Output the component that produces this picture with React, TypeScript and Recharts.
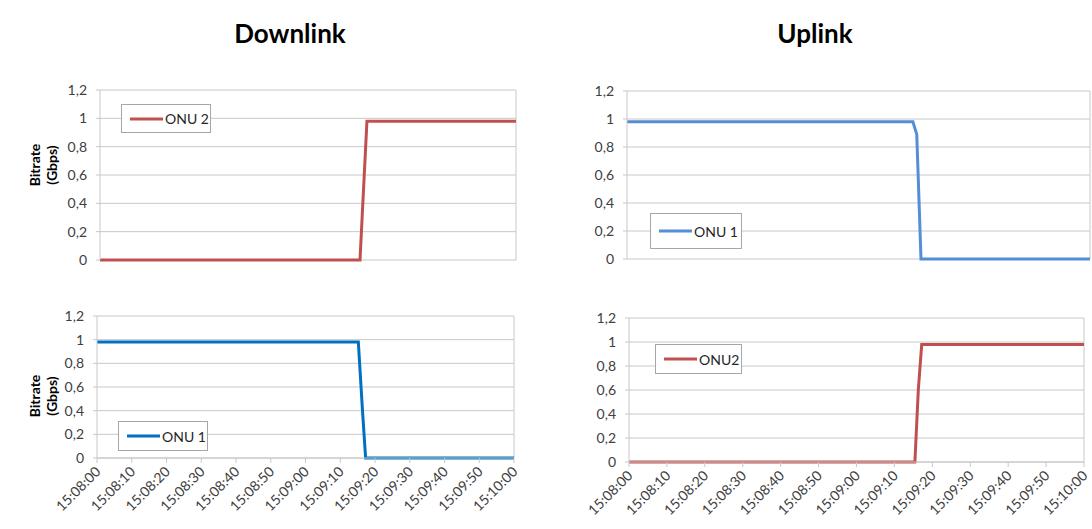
import { CartesianGrid, Line, LineChart, ReferenceLine, XAxis, YAxis } from "recharts";

// x axis: seconds after 15:08:00
const tickSeconds = [0, 10, 20, 30, 40, 50, 60, 70, 80, 90, 100, 110, 120];
const timeLabels = [
   "15:08:00", "15:08:10", "15:08:20", "15:08:30", "15:08:40", "15:08:50", "15:09:00",
   "15:09:10", "15:09:20", "15:09:30", "15:09:40", "15:09:50", "15:10:00",
];
const yTicks = [0, 0.2, 0.4, 0.6, 0.8, 1, 1.2];

// Downlink
const dlOnu2Time = [0, 75, 77, 120];
const dlOnu2 = [0, 0, 0.98, 0.98];
const dlOnu1Time = [0, 75.2, 76.4, 77.3, 120];
const dlOnu1 = [0.98, 0.98, 0.4, 0, 0];

// Uplink
const ulOnu1Time = [0, 74.1, 75.1, 76.2, 120];
const ulOnu1 = [0.98, 0.98, 0.89, 0, 0];
const ulOnu2Time = [0, 75.4, 76.3, 77.2, 120];
const ulOnu2 = [0, 0, 0.6, 0.98, 0.98];

const toRows = (t: number[], v: number[]) => t.map((s, i) => ({ t: s, v: v[i] }));

const FONT = "Lato, 'Open Sans', sans-serif";
const GRID = "#c8c8c8";

const fmtY = (v: number) => (Number.isInteger(v) ? String(v) : v.toFixed(1).replace(".", ","));

const TimeTick = (props: any) => {
   const { x, y, payload } = props;
   const idx = tickSeconds.indexOf(payload.value);
   return (
      <g transform={`translate(${x + 1},${y + 3})`}>
         <text x={0} y={0} dy="0.35em" textAnchor="end" transform="rotate(-45)" fill="#404040" fontSize={14} fontFamily={FONT}>
            {timeLabels[idx]}
         </text>
      </g>
   );
};

type PanelProps = {
   L: number; T: number; R: number; B: number;
   time: number[]; values: number[];
   color: string; name: string;
   legend: { x: number; y: number; w: number; h: number };
   showX: boolean;
};

function Panel({ L, T, R, B, time, values, color, name, legend, showX }: PanelProps) {
   const yw = 50;
   const left = L - yw;
   const top = T - 10;
   const xh = showX ? 70 : 0;
   const mb = showX ? 0 : 12;
   const width = yw + (R - L) + 14;
   const height = 10 + (B - T) + xh + mb;
   return (
      <>
         <div style={{ position: "absolute", left, top }}>
            <LineChart
               width={width}
               height={height}
               data={toRows(time, values)}
               margin={{ top: 10, right: 14, left: 0, bottom: mb }}
            >
               <CartesianGrid vertical={false} stroke={GRID} strokeWidth={1} />
               <XAxis
                  dataKey="t"
                  type="number"
                  domain={[0, 120]}
                  ticks={tickSeconds}
                  hide={!showX}
                  height={xh}
                  interval={0}
                  axisLine={{ stroke: GRID }}
                  tickLine={{ stroke: GRID }}
                  tickSize={5}
                  tickMargin={3}
                  tick={<TimeTick />}
               />
               <YAxis
                  width={yw}
                  domain={[0, 1.2]}
                  ticks={yTicks}
                  interval={0}
                  tickFormatter={fmtY}
                  axisLine={{ stroke: GRID }}
                  tickLine={{ stroke: GRID }}
                  tickSize={4}
                  tickMargin={9}
                  tick={{ fill: "#404040", fontSize: 14, fontFamily: FONT }}
               />
               <ReferenceLine x={120} stroke={GRID} />
               <Line
                  type="linear"
                  dataKey="v"
                  name={name}
                  stroke={color}
                  strokeWidth={3}
                  dot={false}
                  isAnimationActive={false}
               />
            </LineChart>
         </div>
         <div
            style={{
               position: "absolute",
               left: legend.x,
               top: legend.y,
               boxSizing: "border-box",
               width: legend.w,
               height: legend.h,
               border: "1px solid #a6a6a6",
               background: "#fff",
               display: "flex",
               alignItems: "center",
               paddingLeft: 8,
               fontFamily: FONT,
               fontSize: 14,
               color: "#262626",
            }}
         >
            <svg width={33} height={6} style={{ marginRight: 2 }}>
               <line x1={0} y1={3} x2={33} y2={3} stroke={color} strokeWidth={3} />
            </svg>
            <span>{name}</span>
         </div>
      </>
   );
}

const yLabel = (cy: number) => (
   <div
      style={{
         position: "absolute",
         left: 44 - 60,
         top: cy - 18,
         width: 120,
         height: 36,
         transform: "rotate(-90deg)",
         textAlign: "center",
         fontFamily: FONT,
         fontWeight: 700,
         fontSize: 14,
         lineHeight: "17px",
         color: "#000",
      }}
   >
      Bitrate
      <br />
      (Gbps)
   </div>
);

const title = (text: string, cx: number) => (
   <div
      style={{
         position: "absolute",
         left: cx - 100,
         top: 17,
         width: 200,
         textAlign: "center",
         fontFamily: FONT,
         fontWeight: 700,
         fontSize: 26,
         color: "#000",
      }}
   >
      {text}
   </div>
);

export default function App() {
   return (
      <div style={{ position: "absolute", left: 0, top: 0, width: 1092, height: 529, background: "#fff", overflow: "hidden" }}>
         {title("Downlink", 290)}
         {title("Uplink", 815)}
         {yLabel(165)}
         {yLabel(396)}
         <Panel
            L={100} T={90} R={516} B={260}
            time={dlOnu2Time} values={dlOnu2}
            color="#c0504d" name="ONU 2"
            legend={{ x: 121, y: 104, w: 90, h: 29 }}
            showX={false}
         />
         <Panel
            L={97} T={316} R={514} B={458}
            time={dlOnu1Time} values={dlOnu1}
            color="#0070c0" name="ONU 1"
            legend={{ x: 118, y: 421, w: 90, h: 30 }}
            showX={true}
         />
         <Panel
            L={627} T={91} R={1090} B={259}
            time={ulOnu1Time} values={ulOnu1}
            color="#558ed5" name="ONU 1"
            legend={{ x: 650, y: 213, w: 92, h: 36 }}
            showX={false}
         />
         <Panel
            L={629} T={318} R={1084} B={462}
            time={ulOnu2Time} values={ulOnu2}
            color="#c0504d" name="ONU2"
            legend={{ x: 655, y: 344, w: 87, h: 30 }}
            showX={true}
         />
      </div>
   );
}
